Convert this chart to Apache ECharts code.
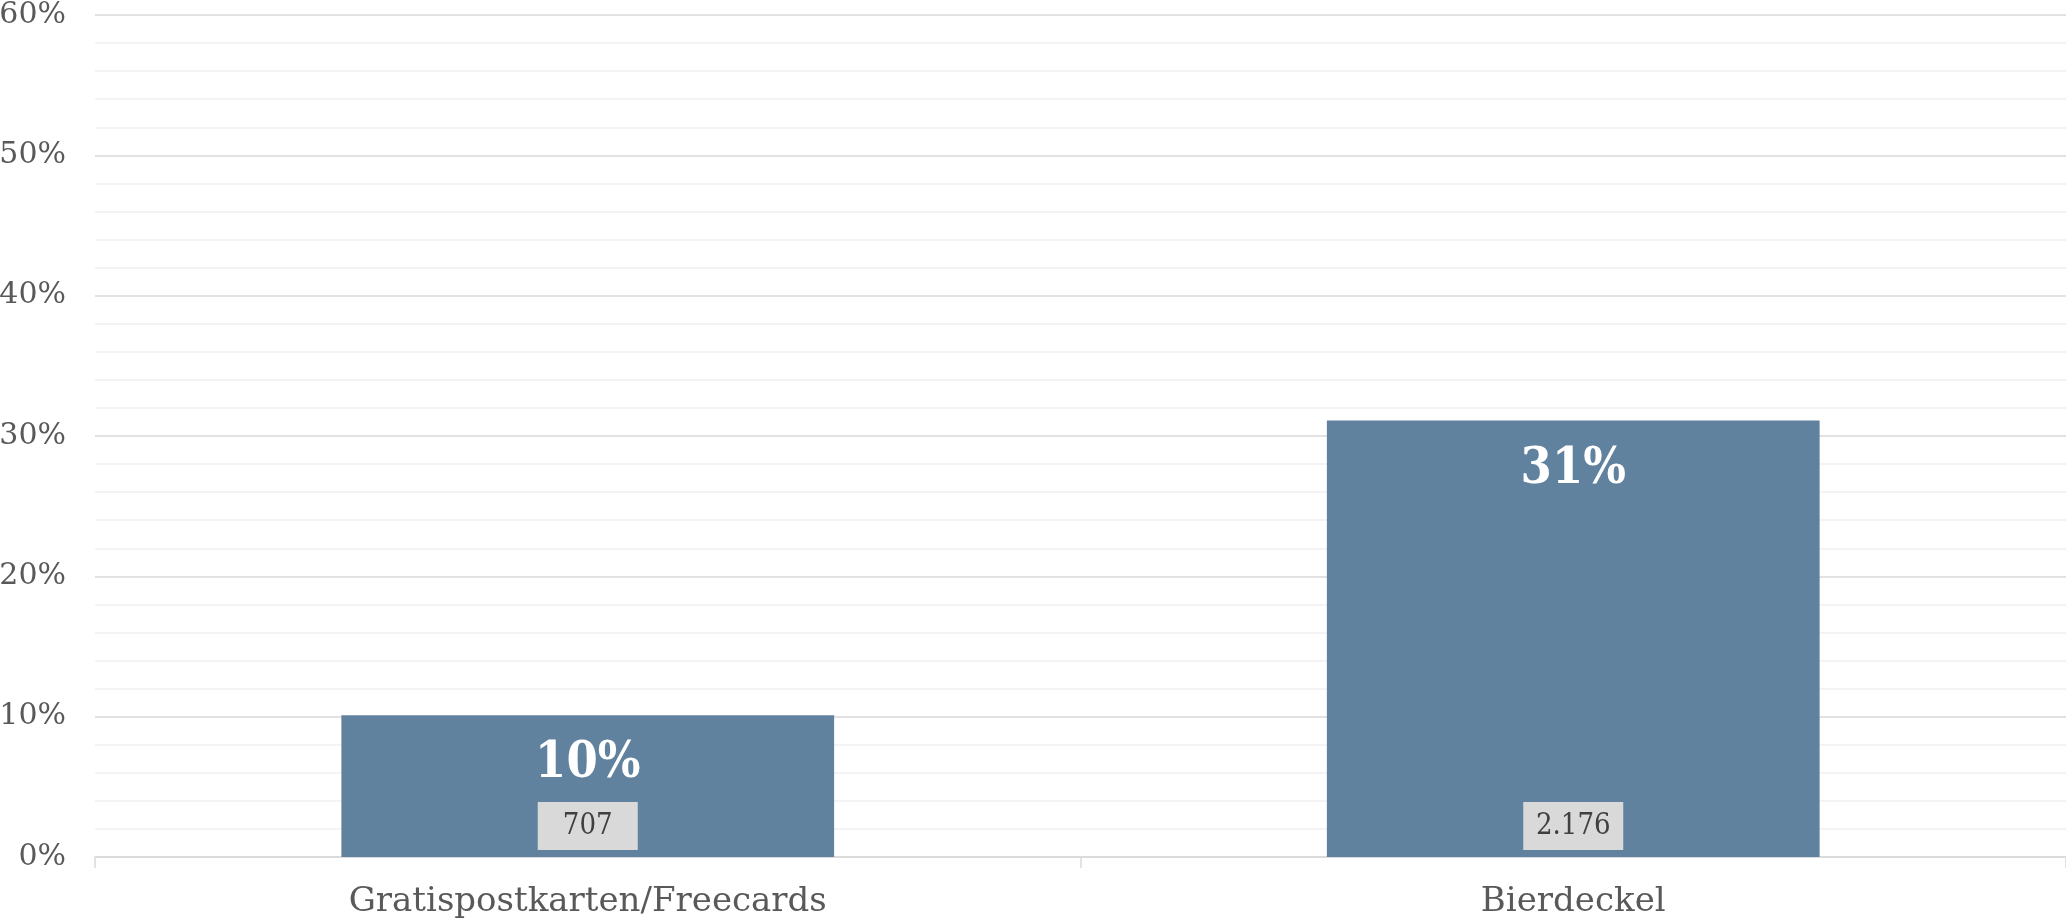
<!DOCTYPE html>
<html>
<head>
<meta charset="utf-8">
<script src="https://cdn.jsdelivr.net/npm/echarts@6/dist/echarts.min.js"></script>
<style>
html,body{margin:0;padding:0;background:#fff;}
#chart{width:2066px;height:922px;}
</style>
</head>
<body>
<div id="chart"></div>
<script>
const categories = ['Gratispostkarten/Freecards', 'Bierdeckel'];
const percentValues = [10.1, 31.1];
const countValues = [707, 2176];
const yTicks = [0, 10, 20, 30, 40, 50, 60];

function fmtCount(n) {
  return String(n).replace(/\B(?=(\d{3})+(?!\d))/g, '.');
}

const FONT = '"DejaVu Serif", serif';
const FONT_C = '"DejaVu Serif Condensed", "DejaVu Serif", serif';
const chart = echarts.init(document.getElementById('chart'));
chart.setOption({
  animation: false,
  grid: { left: 95, right: 0, top: 15, bottom: 65, containLabel: false, outerBoundsMode: 'none' },
  xAxis: {
    type: 'category',
    data: categories,
    axisLine: { lineStyle: { color: '#d9d9d9', width: 1.5 } },
    axisTick: { show: true, length: 11, lineStyle: { color: '#d9d9d9', width: 1.5 } },
    axisLabel: { color: '#595959', fontFamily: FONT, fontSize: 34, margin: 28 }
  },
  yAxis: {
    type: 'value',
    min: yTicks[0],
    max: yTicks[yTicks.length - 1],
    interval: 10,
    axisLine: { show: false },
    axisTick: { show: false },
    axisLabel: { color: '#595959', fontFamily: FONT, fontSize: 30, margin: 29, formatter: v => v + '%' },
    splitLine: { lineStyle: { color: '#d9d9d9', width: 1.5 } },
    minorTick: { show: false, splitNumber: 5 },
    minorSplitLine: { show: true, lineStyle: { color: '#f0f0f0', width: 1.5 } }
  },
  series: [
    {
      type: 'bar',
      data: percentValues,
      barWidth: '50%',
      itemStyle: { color: '#60829e' },
      label: {
        show: true,
        position: 'insideTop',
        distance: 24,
        color: '#ffffff',
        fontFamily: FONT_C,
        fontWeight: 'bold',
        fontSize: 50,
        formatter: p => Math.round(p.value) + '%'
      }
    },
    {
      type: 'bar',
      data: percentValues,
      barWidth: '50%',
      barGap: '-100%',
      itemStyle: { color: 'rgba(0,0,0,0)' },
      label: {
        show: true,
        position: 'insideBottom',
        distance: 7,
        color: '#404040',
        fontFamily: FONT_C,
        fontSize: 29,
        backgroundColor: '#d9d9d9',
        width: 100,
        height: 48,
        lineHeight: 48,
        align: 'center',
        formatter: p => fmtCount(countValues[p.dataIndex])
      }
    }
  ]
});
</script>
</body>
</html>
